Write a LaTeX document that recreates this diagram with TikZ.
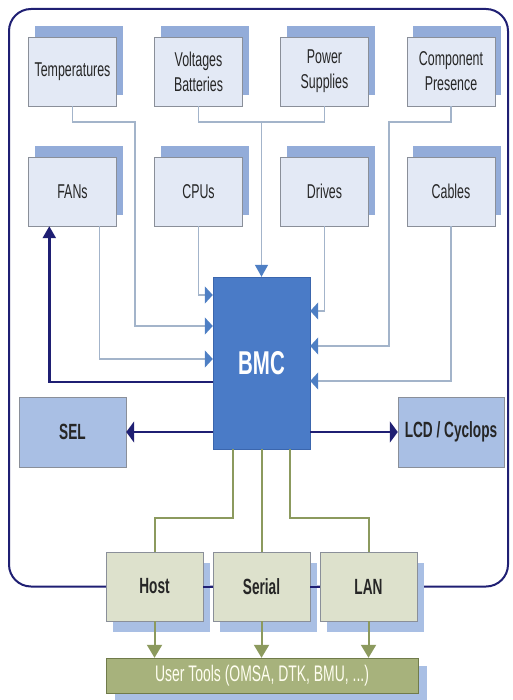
\documentclass[tikz,border=0pt]{standalone}
\usepackage{fontspec}
\setmainfont{Liberation Sans}[FakeStretch=0.62]
\usetikzlibrary{
  arrows.meta,
  shadows,
}

\definecolor{sensorfill}{HTML}{E3E9F5}
\definecolor{sensorline}{HTML}{8A8F99}
\definecolor{shadowblue}{HTML}{93ACD9}
\definecolor{portshadow}{HTML}{A9BFE4}
\definecolor{bmcfill}{HTML}{4A7BC7}
\definecolor{bmcline}{HTML}{3B66AD}
\definecolor{outfill}{HTML}{A9BFE4}
\definecolor{portfill}{HTML}{DDE1CC}
\definecolor{toolfill}{HTML}{A7B27C}
\definecolor{feedline}{HTML}{A3B4CA}
\definecolor{feedtip}{HTML}{4E7FC4}
\definecolor{ctrlnavy}{HTML}{1F1F73}
\definecolor{busolive}{HTML}{8C9A5E}
\definecolor{textgray}{HTML}{262626}

\begin{document}
\begin{tikzpicture}[
    x=1pt, y=-1pt,
    frame/.style={draw=ctrlnavy, line width=2pt, rounded corners=22pt},
    sensor/.style={draw=sensorline, fill=sensorfill, minimum width=88pt, minimum height=69pt,
        align=center, text=textgray, font=\fontsize{20}{25}\selectfont,
        drop shadow={shadow xshift=6pt, shadow yshift=11pt, fill=shadowblue, opacity=1}},
    bmcbox/.style={draw=bmcline, fill=bmcfill, minimum width=97pt, minimum height=172pt,
        text=white, font=\bfseries\fontsize{33}{36}\selectfont},
    outbox/.style={draw=sensorline, fill=outfill, minimum width=107pt, minimum height=70pt,
        text=textgray, font=\bfseries\fontsize{22}{26}\selectfont},
    port/.style={draw=sensorline, fill=portfill, minimum width=97pt, minimum height=69pt,
        text=textgray, font=\bfseries\fontsize{22}{26}\selectfont,
        drop shadow={shadow xshift=7pt, shadow yshift=-11pt, fill=portshadow, opacity=1}},
    tools/.style={draw=busolive!80!black, fill=toolfill, minimum width=312pt, minimum height=35pt,
        text=white!94!yellow, font=\fontsize{22.5}{26}\selectfont,
        drop shadow={shadow xshift=9pt, shadow yshift=-8pt, fill=portshadow, opacity=1}},
    feed/.style={draw=feedline, line width=1.4pt},
    hin/.style={feed, -{Triangle[length=8pt, width=17pt, color=feedtip]}},
    vin/.style={feed, -{Triangle[length=12pt, width=13pt, color=feedtip]}},
    ctrl/.style={draw=ctrlnavy, line width=2.4pt},
    hout/.style={ctrl, -{Triangle[length=8pt, width=21pt, color=ctrlnavy]}},
    vout/.style={ctrl, -{Triangle[length=12pt, width=13pt, color=ctrlnavy]}},
    bus/.style={draw=busolive, line width=2pt},
    busout/.style={bus, -{Triangle[length=13pt, width=15pt, color=busolive]}},
  ]
  \useasboundingbox (0,0) rectangle (512,700);

  % outer loop
  \draw[frame] (9,9) rectangle (508,586.5);

  % sensors
  \foreach \n/\x/\t in {temp/72.5/Temperatures, volt/198.5/{Voltages\\Batteries},
      power/324.5/{Power\\Supplies}, comp/451/{Component\\Presence}} {
      \node[sensor] (\n) at (\x,71.5) {\t};
    }
  \foreach \n/\x/\t in {fans/72.5/FANs, cpus/198.5/CPUs, drives/324.5/Drives, cables/451/Cables} {
      \node[sensor] (\n) at (\x,191.5) {\t};
    }

  \node[bmcbox] (bmc) at (261.5,363) {BMC};
  \node[outbox] (sel) at (72.5,432) {SEL};
  \node[outbox, minimum width=106pt] (lcd) at (451,432) {LCD / Cyclops};

  \foreach \n/\x/\t in {host/154.5/Host, serial/261.5/Serial, lan/368.5/LAN} {
      \node[port] (\n) at (\x,586.5) {\t};
    }
  \node[tools] (tools) at (262,675.5) {User Tools (OMSA, DTK, BMU, ...)};

  % loop between the ports
  \draw[frame] (host.east) -- (serial.west) (serial.east) -- (lan.west);

  % sensor inputs
  \draw[vin] (volt.south) |- (bmc.north |- 0,122) -- (bmc.north);
  \draw[feed] (power.south) |- (bmc.north |- 0,122);
  \draw[hin] (temp.south) |- (135,122) |- (bmc.west |- 0,326);
  \draw[hin] (cpus.south) |- (bmc.west |- 0,295);
  \draw[hin] ([xshift=-17pt]fans.south east) |- (bmc.west |- 0,359);
  \draw[hin] (comp.south) |- (389,122) |- (bmc.east |- 0,346);
  \draw[hin] (drives.south) |- (bmc.east |- 0,311);
  \draw[hin] (cables.south) |- (bmc.east |- 0,381);

  % outputs
  \draw[vout] (bmc.west |- 0,382) -| ([xshift=21pt]fans.south west);
  \draw[hout] (bmc.west |- sel.east) -- (sel.east);
  \draw[hout] (bmc.east |- lcd.west) -- (lcd.west);

  % interfaces
  \draw[bus] (bmc.south -| 233,0) |- (host.north |- 0,518) -- (host.north);
  \draw[bus] (bmc.south) -- (serial.north);
  \draw[bus] (bmc.south -| 290,0) |- (lan.north |- 0,518) -- (lan.north);
  \foreach \n in {host, serial, lan} {
      \draw[busout] (\n.south) -- (\n.south |- tools.north);
    }
\end{tikzpicture}
\end{document}
